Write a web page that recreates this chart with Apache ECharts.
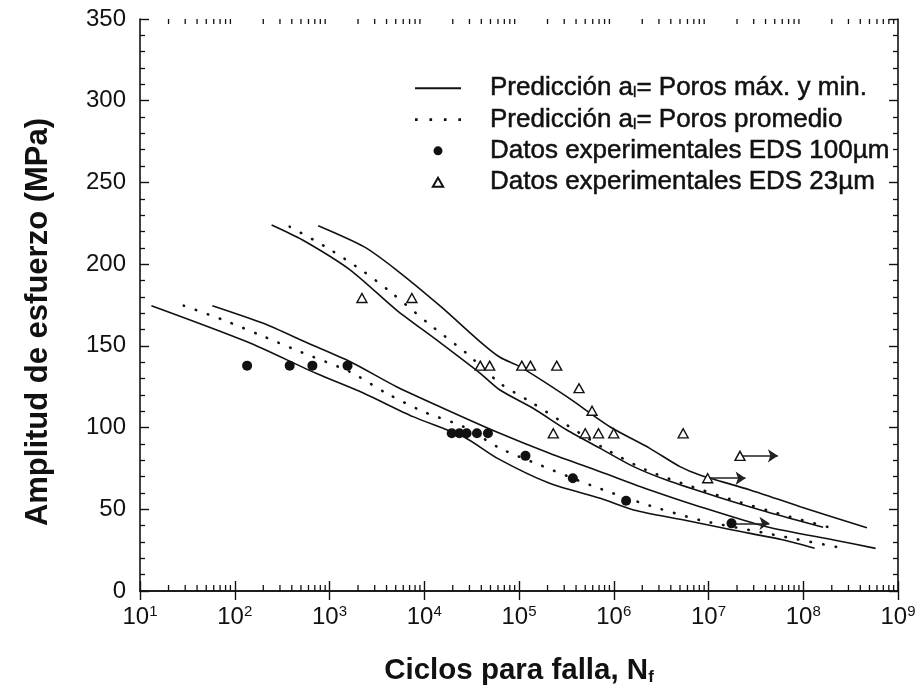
<!DOCTYPE html>
<html>
<head>
<meta charset="utf-8">
<script src="https://cdn.jsdelivr.net/npm/echarts@6/dist/echarts.min.js"></script>
<style>
  html, body { margin: 0; padding: 0; background: #fff; }
  #chart { width: 920px; height: 693px; }
</style>
</head>
<body>
<div id="chart"></div>
<script>
// Fatigue life (S-N) predictions for two pore sizes, with experimental data.
// Each pair is [cycles to failure N_f, stress amplitude in MPa].

// Band for the 23 µm material (upper band)
const band23Upper = [[7.6e2, 223.5], [2.3e3, 210.7], [5.1e3, 196.4], [1.5e4, 174], [3.9e4, 152.5],
  [6.3e4, 143], [1.02e5, 137.3], [3.2e5, 118.9], [9.1e5, 100.5], [2.4e6, 87.3], [5.0e6, 76.1],
  [8.1e6, 71], [2.75e7, 61.8], [9.3e7, 51.6], [4.7e8, 38.7]];
const band23Lower = [[2.45e2, 224], [5.2e2, 214.8], [1.66e3, 196.4], [5.1e3, 171.9], [1.35e4, 153.6],
  [3.9e4, 133.2], [6.3e4, 123], [1.41e5, 111.8], [3.2e5, 98.5], [7.2e5, 87.3], [1.62e6, 76.1],
  [3.6e6, 67.9], [1.23e7, 57.7], [4.1e7, 48.5], [1.62e8, 39]];
const band23Mean = [[3.8e2, 222.9], [9.3e2, 210.3], [2.3e3, 195.4], [4.4e3, 183], [1.1e4, 163.8],
  [2.8e4, 145.4], [6.3e4, 127.1], [1.32e5, 115.8], [3.2e5, 101.6], [8.5e5, 86.3], [2.2e6, 74],
  [5.9e6, 64.9], [1.8e7, 55.7], [6.2e7, 46.5], [2.2e8, 37.9]];

// Band for the 100 µm material (lower band)
const band100Upper = [[5.8e1, 174.6], [2.0e2, 163.8], [5.8e2, 151.9], [1.66e3, 140.3], [5.1e3, 125],
  [1.74e4, 110.8], [6.0e4, 97], [2.1e5, 84.3], [7.2e5, 73], [2.4e6, 61.8], [8.1e6, 51.6],
  [4.1e7, 39.3], [2.1e8, 31.2], [5.8e8, 26.1]];
const band100Lower = [[1.32e1, 174.6], [1.35e2, 152.5], [7.2e2, 133.2], [2.3e3, 121], [7.6e3, 106.7],
  [2.6e4, 94.4], [6.0e4, 81], [2.1e5, 65.9], [7.2e5, 56.7], [1.62e6, 49.6], [5.5e6, 43.4],
  [1.8e7, 37.3], [6.2e7, 31.2], [1.32e8, 26.1]];
const band100Mean = [[2.9e1, 174.6], [7.6e1, 165.8], [1.86e2, 156.6], [4.9e2, 146.4], [1.66e3, 134],
  [4.0e3, 121], [9.8e3, 109.7], [2.6e4, 100.5], [6.3e4, 87.3], [1.66e5, 77.1], [5.6e5, 64.9],
  [2.0e6, 53.7], [8.1e6, 43.4], [4.1e7, 35.3], [2.9e8, 25.7]];

// Experimental results
const eds100 = [[135, 137.9], [380, 137.9], [660, 137.9], [1550, 137.9],
  [1.95e4, 96.5], [2.35e4, 96.5], [2.8e4, 96.5], [3.6e4, 96.5], [4.7e4, 96.5],
  [1.17e5, 82.7], [3.7e5, 69], [1.35e6, 55.2], [1.75e7, 41.4]];
const eds23 = [[2.2e3, 179.3], [7.4e3, 179.3],
  [3.9e4, 137.9], [4.9e4, 137.9], [1.07e5, 137.9], [1.32e5, 137.9], [2.5e5, 137.9],
  [4.3e5, 124.1], [5.9e5, 110.3],
  [2.3e5, 96.5], [5.0e5, 96.5], [6.9e5, 96.5], [1.0e6, 96.5], [5.4e6, 96.5],
  [9.8e6, 69], [2.15e7, 82.7]];
// Specimens that did not fail (run-outs), drawn with an arrow
const runouts = [[1.75e7, 41.4], [9.8e6, 69], [2.15e7, 82.7]];
const runoutArrowDecades = 0.4;

// Axis settings
const xMin = 10, xMax = 1e9;
const yMin = 0, yMax = 350, yStep = 50;

const nameSolid = 'Predicción a_l= Poros máx. y min.';
const nameDotted = 'Predicción a_l= Poros promedio';
const name100 = 'Datos experimentales EDS 100µm';
const name23 = 'Datos experimentales EDS 23µm';

const FONT = '"Liberation Sans", Arial, Helvetica, sans-serif';
const INK = '#111';

// Log-axis minor ticks (2..9 within each decade)
const minorTicks = [];
for (let e = Math.log10(xMin); e < Math.log10(xMax); e++) {
  for (let m = 2; m <= 9; m++) minorTicks.push([m * Math.pow(10, e), yMin]);
}

const solidStyle = { color: INK, width: 1.6 };
const dottedStyle = { color: INK, width: 2.6, type: [0.5, 12.2], cap: 'round' };

// Legend glyphs: a plain rule, a row of dots, a dot and an open triangle
const iconSolid = 'path://M0,0H46V1.8H0Z';
const iconDotted = 'path://M0,0h2.4v2.4h-2.4z M13,0h2.4v2.4h-2.4z M26,0h2.4v2.4h-2.4z M39,0h2.4v2.4h-2.4z';
const iconTriangle = 'path://M5,0L10,8.7L0,8.7Z';

function curve(name, data, style) {
  return {
    type: 'line', name: name, data: data, xAxisIndex: 0, yAxisIndex: 0,
    symbol: 'none', smooth: 0.25, lineStyle: style, itemStyle: { color: INK },
    silent: true, z: 3
  };
}

const chart = echarts.init(document.getElementById('chart'), null, { renderer: 'canvas' });

const logLabel = v => '10{sup|' + Math.round(Math.log10(v)) + '}';

const option = {
  animation: false,
  backgroundColor: '#fff',
  grid: { left: 140, right: 22, top: 19, bottom: 102 },
  legend: {
    orient: 'vertical',
    left: 410, top: 70,
    itemWidth: 46, itemHeight: 9, itemGap: 4.8,
    symbolKeepAspect: true,
    selectedMode: false,
    data: [
      { name: nameSolid, icon: iconSolid, itemStyle: { color: INK, borderWidth: 0 } },
      { name: nameDotted, icon: iconDotted, itemStyle: { color: INK, borderWidth: 0 } },
      { name: name100, icon: 'circle' },
      { name: name23, icon: iconTriangle }
    ],
    formatter: n => n.replace('a_l', 'a{sub|l}'),
    textStyle: {
      fontFamily: FONT, fontSize: 26, color: INK, lineHeight: 25,
      textBorderColor: INK, textBorderWidth: 0.5,
      padding: [0, 0, 0, 24],
      rich: { sub: { fontFamily: FONT, fontSize: 15, lineHeight: 10, verticalAlign: 'bottom', color: INK,
        textBorderColor: INK, textBorderWidth: 0.4 } }
    }
  },
  xAxis: [
    {
      type: 'log', logBase: 10, min: xMin, max: xMax, splitNumber: 8, position: 'bottom',
      axisLine: { lineStyle: { color: INK, width: 1.6 } },
      axisTick: { inside: true, length: 10, lineStyle: { color: INK, width: 1.4 } },
      splitLine: { show: false },
      axisLabel: {
        margin: 13, color: INK, fontFamily: FONT, fontSize: 24, lineHeight: 27,
        formatter: logLabel,
        rich: { sup: { fontFamily: FONT, fontSize: 15, lineHeight: 12, verticalAlign: 'top', color: INK } }
      },
      name: 'Ciclos para falla, N{sub|f}',
      nameLocation: 'middle', nameGap: 64,
      nameTextStyle: {
        fontFamily: FONT, fontSize: 29.5, fontWeight: 'bold', color: INK, lineHeight: 31,
        rich: { sub: { fontFamily: FONT, fontSize: 17, fontWeight: 'bold', lineHeight: 10, verticalAlign: 'bottom', color: INK } }
      }
    },
    {
      type: 'log', logBase: 10, min: xMin, max: xMax, splitNumber: 8, position: 'top',
      axisLine: { lineStyle: { color: INK, width: 1.6 } },
      axisTick: { inside: true, length: 9, lineStyle: { color: INK, width: 1.4 } },
      axisLabel: { show: false }, splitLine: { show: false }
    }
  ],
  yAxis: [
    {
      type: 'value', min: yMin, max: yMax, interval: yStep, position: 'left',
      axisLine: { show: true, lineStyle: { color: INK, width: 1.6 } },
      axisTick: { show: true, inside: true, length: 9, lineStyle: { color: INK, width: 1.4 } },
      minorTick: { show: true, splitNumber: 5, length: 5, lineStyle: { color: INK, width: 1.3 } },
      splitLine: { show: false },
      axisLabel: { margin: 14, color: INK, fontFamily: FONT, fontSize: 24 },
      name: 'Amplitud de esfuerzo (MPa)',
      nameLocation: 'middle', nameGap: 86, nameRotate: 90,
      nameTextStyle: { fontFamily: FONT, fontSize: 31, fontWeight: 'bold', color: INK, padding: [0, 34, 0, 0] }
    },
    {
      type: 'value', min: yMin, max: yMax, interval: yStep, position: 'right',
      axisLine: { show: true, lineStyle: { color: INK, width: 1.6 } },
      axisTick: { show: true, inside: true, length: 9, lineStyle: { color: INK, width: 1.4 } },
      minorTick: { show: true, splitNumber: 5, length: 5, lineStyle: { color: INK, width: 1.3 } },
      splitLine: { show: false },
      axisLabel: { show: false }
    }
  ],
  series: [
    curve(nameSolid, band23Upper, solidStyle),
    curve(nameSolid, band23Lower, solidStyle),
    curve(nameSolid, band100Upper, solidStyle),
    curve(nameSolid, band100Lower, solidStyle),
    curve(nameDotted, band23Mean, dottedStyle),
    curve(nameDotted, band100Mean, dottedStyle),
    {
      type: 'lines', coordinateSystem: 'cartesian2d', xAxisIndex: 0, yAxisIndex: 0,
      silent: true, z: 4,
      symbol: ['none', 'arrow'], symbolSize: 10,
      lineStyle: { color: '#222', width: 1.5, opacity: 1 },
      data: runouts.map(p => ({ coords: [p, [p[0] * Math.pow(10, runoutArrowDecades), p[1]]] }))
    },
    {
      type: 'scatter', name: name100, data: eds100, xAxisIndex: 0, yAxisIndex: 0,
      symbol: 'circle', symbolSize: 10, itemStyle: { color: INK, opacity: 1 }, silent: true, z: 5
    },
    {
      type: 'scatter', name: name23, data: eds23, xAxisIndex: 0, yAxisIndex: 0,
      symbol: 'triangle', symbolSize: [10, 9],
      itemStyle: { color: '#fff', borderColor: INK, borderWidth: 1.4, opacity: 1 }, silent: true, z: 5
    },
    {
      // minor decade ticks on the bottom and top edges of the log axis
      type: 'custom', xAxisIndex: 0, yAxisIndex: 0, data: minorTicks, silent: true, z: 6,
      encode: { x: 0, y: 1 },
      renderItem: function (params, api) {
        const n = api.value(0);
        const b = api.coord([n, yMin]);
        const t = api.coord([n, yMax]);
        const st = { stroke: INK, lineWidth: 1.3 };
        return {
          type: 'group',
          children: [
            { type: 'line', shape: { x1: b[0], y1: b[1], x2: b[0], y2: b[1] - 6 }, style: st },
            { type: 'line', shape: { x1: t[0], y1: t[1], x2: t[0], y2: t[1] + 5 }, style: st }
          ]
        };
      }
    }
  ]
};

chart.setOption(option);
</script>
</body>
</html>
